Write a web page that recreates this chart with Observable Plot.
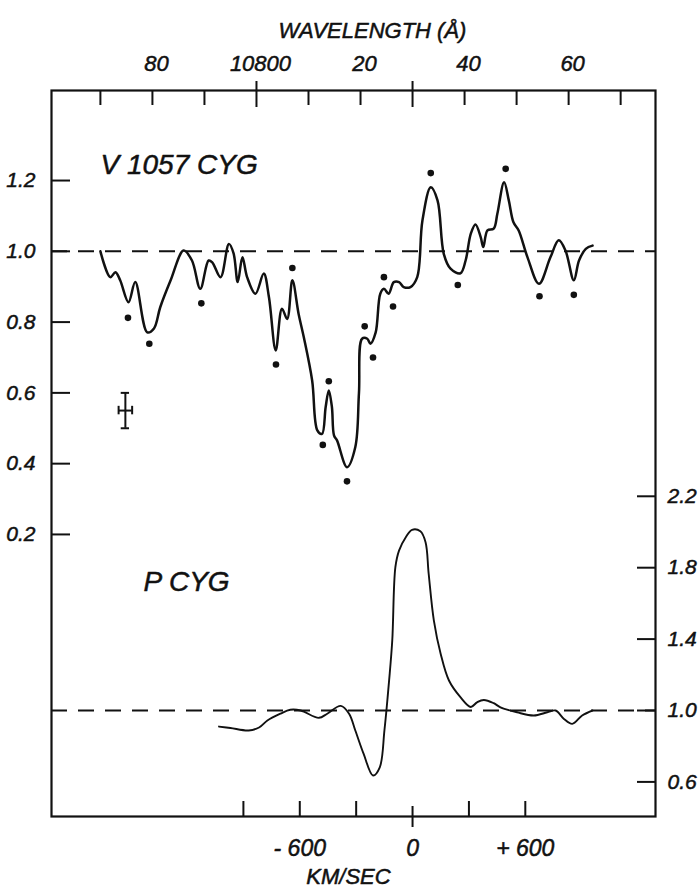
<!DOCTYPE html>
<html>
<head>
<meta charset="utf-8">
<script src="https://cdn.jsdelivr.net/npm/d3@7"></script>
<script src="https://cdn.jsdelivr.net/npm/@observablehq/plot@0.6"></script>
<style>
  html, body { margin: 0; padding: 0; background: #fff; }
  #chart svg { display: block; }
</style>
</head>
<body>
<div id="chart"></div>
<script>
// ---------- DATA ----------
// V1057 Cyg spectrum: wavelength (Å) and relative flux (left axis)
const v1057Wavelength = [10770.0,10771.9,10772.9,10773.8,10775.4,10776.7,10779.0,10780.3,10781.5,10783.5,
  10786.0,10787.6,10789.2,10790.8,10791.5,10793.1,10794.7,10795.6,10796.4,10797.3,
  10798.2,10799.8,10801.4,10802.4,10803.7,10804.9,10805.9,10806.9,10808.1,10809.1,
  10810.7,10811.7,10812.6,10813.3,10813.9,10814.5,10814.9,10815.5,10817.4,10819.0,
  10819.7,10820.3,10821.3,10821.9,10822.9,10823.8,10824.5,10825.4,10826.4,10827.4,
  10828.3,10829.6,10830.9,10831.9,10833.5,10834.8,10836.0,10837.3,10839.2,10840.2,
  10841.2,10842.1,10843.1,10843.6,10844.4,10845.6,10846.3,10847.6,10848.5,10849.4,
  10850.4,10852.1,10854.3,10856.5,10858.1,10859.4,10861.0,10862.0,10863.3,10864.6];
const v1057Flux = [1.000,0.927,0.941,0.918,0.856,0.913,0.771,0.782,0.842,0.918,
  1.002,0.974,0.894,0.974,0.969,0.927,1.021,0.994,0.913,0.983,
  0.927,0.880,0.937,0.870,0.720,0.838,0.809,0.918,0.823,0.757,
  0.635,0.494,0.484,0.560,0.607,0.560,0.480,0.465,0.390,0.447,
  0.600,0.753,0.753,0.739,0.770,0.880,0.894,0.880,0.913,0.913,
  0.899,0.899,0.927,1.087,1.181,1.144,0.993,0.951,0.938,0.974,
  1.050,1.076,1.040,1.012,1.059,1.064,1.106,1.195,1.144,1.082,
  1.059,0.983,0.908,0.983,1.031,1.002,0.918,0.974,1.007,1.016];

// Filled dots (line positions) on the V1057 Cyg panel
const dotWavelength = [10775.3,10779.4,10789.4,10803.75,10806.9,10812.75,10813.9,10817.4,10820.8,
  10822.4,10824.5,10826.25,10833.5,10838.7,10847.9,10854.4,10861.0];
const dotFlux = [0.812,0.739,0.853,0.680,0.953,0.453,0.633,0.350,0.788,
  0.700,0.927,0.844,1.221,0.905,1.233,0.873,0.877];

// Representative error bar
const errorBar = { w: 10774.8, f: 0.55, dw: 1.3, df: 0.05 };

// P Cyg spectrum: wavelength (Å) and relative flux (right axis)
const pcygWavelength = [10792.8,10795.0,10798.5,10800.5,10802.1,10804.6,10806.5,10808.5,10812.0,10813.6,
  10816.2,10817.8,10819.0,10820.6,10822.4,10823.7,10824.6,10825.5,10826.1,10826.7,
  10827.4,10828.7,10829.9,10831.5,10832.5,10833.1,10834.1,10835.4,10837.0,10839.2,
  10841.2,10842.4,10843.7,10845.6,10846.9,10850.1,10853.3,10855.9,10857.5,10859.1,
  10860.7,10862.6,10864.6];
const pcygFlux = [0.910,0.902,0.888,0.905,0.944,0.982,1.004,1.000,0.959,0.982,
  1.026,0.982,0.888,0.757,0.636,0.682,0.890,1.170,1.392,1.803,
  1.896,1.971,2.012,2.004,1.943,1.766,1.504,1.318,1.168,1.075,
  1.020,1.046,1.059,1.041,1.018,0.990,0.972,0.990,1.000,0.953,
  0.925,0.972,1.000];

// Axis ticks and labels
const wavelengthTicks = [10770,10780,10790,10800,10810,10820,10830,10840,10850,10860,10870];
const wavelengthMajor = [10800,10830];
const wavelengthLabelValues = [10780,10800,10820,10840,10860];
const wavelengthLabels = ["80","10800","20","40","60"];
const leftTicks = [1.2,1.0,0.8,0.6,0.4,0.2];
const rightTicks = [2.2,1.8,1.4,1.0,0.6];
const velocityTicks = [-900,-600,-300,0,300,600];
const velocityLabelValues = [-600,0,600];
const velocityLabels = ["- 600","0","+ 600"];

// ---------- SCALES / HELPERS ----------
const W = 699, H = 889;
const mL = 51, mR = 44, mT = 90, mB = 73;
const innerW = W - mL - mR, innerH = H - mT - mB;
const LAMBDA0 = 10830, C = 299792.458;           // He I 10830 rest wavelength, km/s
const velToLambda = v => LAMBDA0 * (1 + v / C);
// secondary (right) axis: P Cyg flux expressed in left-axis units
const pcygToLeft = p => -0.2975 + 0.5044 * (p - 1);

const v1057 = v1057Wavelength.map((w, i) => ({ w, f: v1057Flux[i] }));
const dots = dotWavelength.map((w, i) => ({ w, f: dotFlux[i] }));
const pcyg = pcygWavelength.map((w, i) => ({ w, f: pcygToLeft(pcygFlux[i]) }));

const font = "'Liberation Sans', Arial, Helvetica, sans-serif";
const ink = "#111";
const txt = { fontFamily: font, fontStyle: "italic", fill: ink, stroke: ink, strokeWidth: 0.5 };

const chart = Plot.plot({
  width: W, height: H,
  marginLeft: mL, marginRight: mR, marginTop: mT, marginBottom: mB,
  style: { background: "white", overflow: "visible" },
  x: { domain: [10760.6, 10876.7], axis: null },
  y: { domain: [-0.597, 1.4544], axis: null },
  marks: [
    Plot.frame({ stroke: ink, strokeWidth: 2.2 }),

    // top wavelength ticks
    Plot.ruleX(wavelengthTicks.filter(d => !wavelengthMajor.includes(d)),
      { x: d => d, insetBottom: innerH - 15, stroke: ink, strokeWidth: 2 }),
    Plot.ruleX(wavelengthMajor,
      { x: d => d, insetTop: -9, insetBottom: innerH - 17, stroke: ink, strokeWidth: 2 }),
    Plot.text(wavelengthLabelValues, { x: d => d, text: (d, i) => wavelengthLabels[i],
      frameAnchor: "top", dx: 4, dy: -20, lineAnchor: "bottom", fontSize: 22, ...txt }),
    Plot.text(["WAVELENGTH (Å)"], { text: d => d, frameAnchor: "top", dx: 19, dy: -53,
      lineAnchor: "bottom", fontSize: 22, letterSpacing: "1.5px", ...txt }),

    // left axis ticks
    Plot.ruleY(leftTicks, { y: d => d, insetRight: innerW - 19, stroke: ink, strokeWidth: 2 }),
    Plot.text(leftTicks, { y: d => d, text: d => d.toFixed(1), frameAnchor: "left", dx: -16,
      textAnchor: "end", lineAnchor: "middle", fontSize: 21, ...txt }),

    // right axis ticks (P Cyg)
    Plot.ruleY(rightTicks, { y: d => pcygToLeft(d), insetLeft: innerW - 18, stroke: ink, strokeWidth: 2 }),
    Plot.text(rightTicks, { y: d => pcygToLeft(d), text: d => d.toFixed(1), frameAnchor: "right", dx: 12,
      textAnchor: "start", lineAnchor: "middle", fontSize: 21, ...txt }),

    // bottom velocity ticks
    Plot.ruleX(velocityTicks.filter(v => v !== 0),
      { x: v => velToLambda(v), insetTop: innerH - 15, stroke: ink, strokeWidth: 2 }),
    Plot.ruleX([0], { x: v => velToLambda(v), insetTop: innerH - 10, insetBottom: -11, stroke: ink, strokeWidth: 2 }),
    Plot.text(velocityLabelValues, { x: v => velToLambda(v), text: (d, i) => velocityLabels[i],
      frameAnchor: "bottom", dy: 39, lineAnchor: "bottom", fontSize: 23, ...txt }),
    Plot.text(["KM/SEC"], { text: d => d, frameAnchor: "bottom", dx: -5, dy: 67,
      lineAnchor: "bottom", fontSize: 22, ...txt }),

    // continuum levels (dashed)
    Plot.ruleY([1.0], { y: d => d, stroke: ink, strokeWidth: 2, strokeDasharray: "16,11" }),
    Plot.ruleY([1.0], { y: d => pcygToLeft(d), stroke: ink, strokeWidth: 2, strokeDasharray: "16,11" }),

    // spectra
    Plot.line(v1057, { x: "w", y: "f", curve: "catmull-rom", stroke: ink, strokeWidth: 2.5 }),
    Plot.dot(dots, { x: "w", y: "f", r: 3.3, fill: ink, stroke: "none" }),
    Plot.line(pcyg, { x: "w", y: "f", curve: "catmull-rom", stroke: ink, strokeWidth: 1.9 }),

    // error bar
    Plot.ruleX([errorBar], { x: "w", y1: d => d.f - d.df, y2: d => d.f + d.df, stroke: ink, strokeWidth: 2 }),
    Plot.ruleY([errorBar], { y: "f", x1: d => d.w - d.dw, x2: d => d.w + d.dw, stroke: ink, strokeWidth: 2 }),
    Plot.ruleY([errorBar, errorBar], { y: (d, i) => i ? d.f + d.df : d.f - d.df,
      x1: d => d.w - 0.8, x2: d => d.w + 0.8, stroke: ink, strokeWidth: 2 }),
    Plot.ruleX([errorBar, errorBar], { x: (d, i) => i ? d.w + d.dw : d.w - d.dw,
      y1: d => d.f - 0.012, y2: d => d.f + 0.012, stroke: ink, strokeWidth: 2 }),

    // panel labels
    Plot.text(["V 1057 CYG"], { text: d => d, frameAnchor: "top-left", dx: 49, dy: 83,
      textAnchor: "start", lineAnchor: "bottom", fontSize: 28, ...txt }),
    Plot.text(["P CYG"], { text: d => d, frameAnchor: "top-left", dx: 92, dy: 500,
      textAnchor: "start", lineAnchor: "bottom", fontSize: 28, ...txt })
  ]
});

document.getElementById("chart").appendChild(chart);
</script>
</body>
</html>
